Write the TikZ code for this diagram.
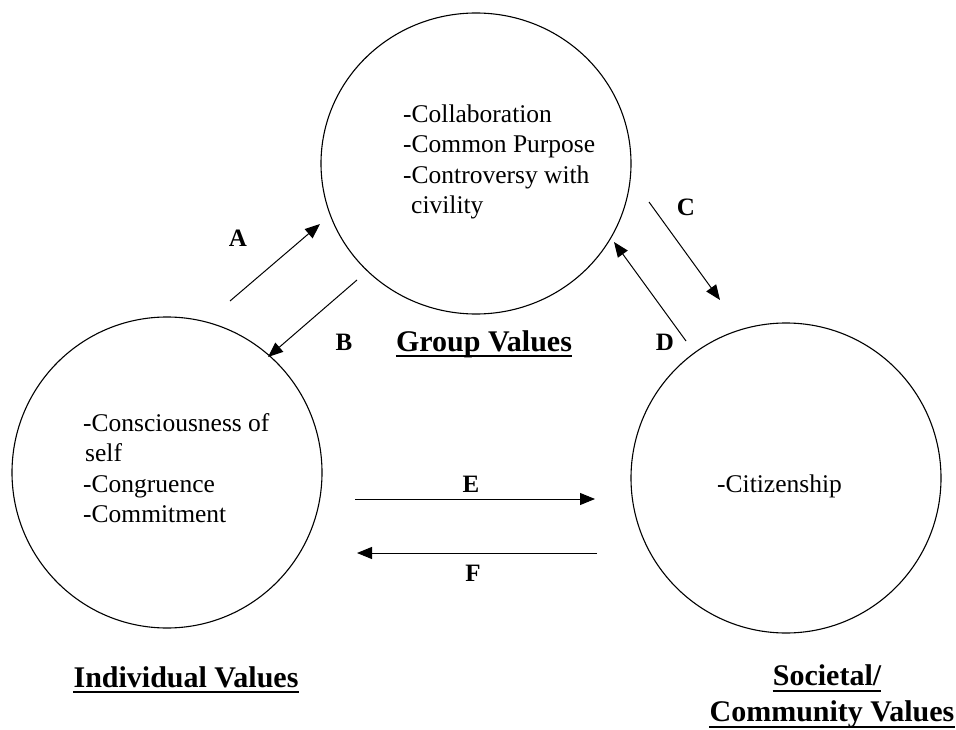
\documentclass[tikz,border=0pt]{standalone}
\usepackage{fontspec}
\setmainfont{Liberation Serif}
\usetikzlibrary{arrows.meta,shapes.geometric}
\tikzset{
  valuecircle/.style={draw, ellipse, line width=1.1pt, inner sep=0pt},
  bodytext/.style={anchor=north west, inner sep=0pt, align=left,
    font=\fontsize{25.5}{30.5}\selectfont},
  letterlabel/.style={inner sep=0pt, font=\fontsize{25}{30}\selectfont\bfseries},
  titlelabel/.style={inner sep=0pt, anchor=base, font=\fontsize{30}{36}\selectfont\bfseries},
  ulin/.style={line width=2.6pt},
  flow/.style={line width=1pt, -{Triangle[length=15pt,width=12pt]}}
}
\begin{document}
\begin{tikzpicture}[x=1pt,y=-1pt]
\useasboundingbox (0,0) rectangle (956,730);

% circles
\node[valuecircle, minimum width=310pt, minimum height=301pt] (grp) at (476,163.5) {};
\node[valuecircle, minimum width=310pt, minimum height=311pt] (ind) at (167,472.5) {};
\node[valuecircle, minimum width=310pt, minimum height=310pt] (soc) at (786,478) {};

% texts inside circles
\node[bodytext] (grptext) at (403,104.2) {-Collaboration\\-Common Purpose\\-Controversy with\\\hspace*{8pt}civility};
\node[bodytext] (indtext) at (83,413) {-Consciousness of\\\hspace*{2pt}self\\-Congruence\\-Commitment};
\node[bodytext, anchor=base west] (soctext) at (717,492.3) {-Citizenship};

% titles
\node[titlelabel] (gvt) at (484,351) {Group Values};
\draw[ulin] ([yshift=-5pt]gvt.base west) -- ([yshift=-5pt]gvt.base east);
\node[titlelabel] (ivt) at (186,687) {Individual Values};
\draw[ulin] ([yshift=-5pt]ivt.base west) -- ([yshift=-5pt]ivt.base east);
\node[titlelabel] (svt) at (827,685) {Societal/};
\draw[ulin] ([yshift=-6pt]svt.base west) -- ([yshift=-6pt]svt.base east);
\node[titlelabel] (cvt) at (832,721) {Community Values};
\draw[ulin] ([yshift=-6pt]cvt.base west) -- ([yshift=-6pt]cvt.base east);

% arrow end points
\coordinate (a1) at (230,301);
\coordinate (a2) at (320,224);
\coordinate (b1) at (357,280);
\coordinate (b2) at (268,357);
\coordinate (c1) at (649,202);
\coordinate (c2) at (720,300);
\coordinate (d1) at (686,341);
\coordinate (d2) at (614,242);
\coordinate (e1) at (355,499);
\coordinate (e2) at (595,499);
\coordinate (f1) at (597,553);
\coordinate (f2) at (357,553);

\draw[flow] (a1) -- (a2);
\draw[flow] (b1) -- (b2);
\draw[flow] (c1) -- (c2);
\draw[flow] (d1) -- (d2);
\draw[flow] (e1) -- (e2);
\draw[flow] (f1) -- (f2);

% arrow labels
\node[letterlabel] (la) at (238,238) {A};
\node[letterlabel] (lb) at (344,342) {B};
\node[letterlabel] (lc) at (686,207) {C};
\node[letterlabel] (ld) at (665,342) {D};
\node[letterlabel] (le) at (471,484) {E};
\node[letterlabel] (lf) at (473,573) {F};
\end{tikzpicture}
\end{document}
